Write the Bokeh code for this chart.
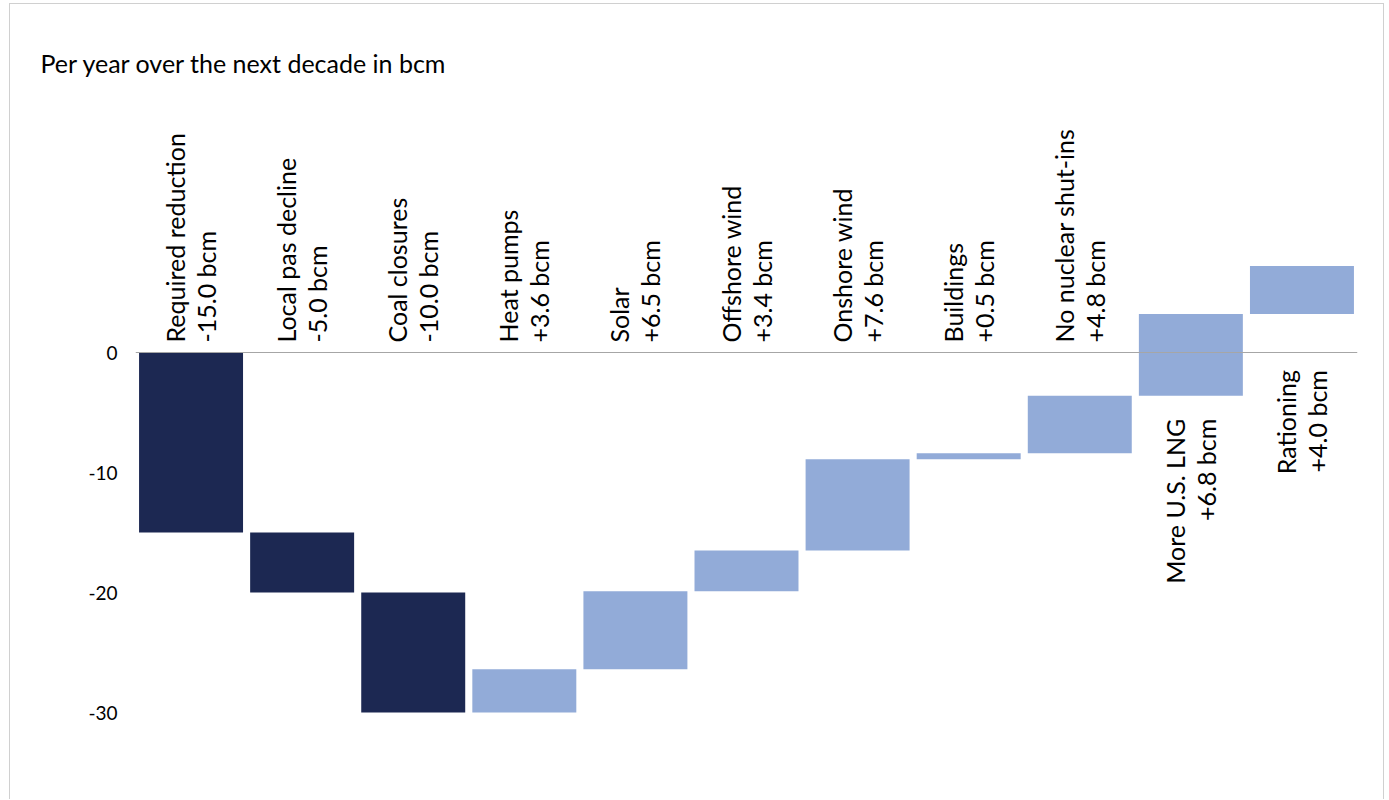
import numpy as np
from bokeh.plotting import figure
from bokeh.models import ColumnDataSource, FactorRange, Range1d, FixedTicker, Span, PrintfTickFormatter
from bokeh.embed import file_html
from bokeh.resources import INLINE
from bokeh.core.properties import value

# ---- data ----
categories = ["Required reduction", "Local pas decline", "Coal closures", "Heat pumps",
              "Solar", "Offshore wind", "Onshore wind", "Buildings",
              "No nuclear shut-ins", "More U.S. LNG", "Rationing"]
changes = [-15.0, -5.0, -10.0, 3.6, 6.5, 3.4, 7.6, 0.5, 4.8, 6.8, 4.0]
value_labels = ["-15.0 bcm", "-5.0 bcm", "-10.0 bcm", "+3.6 bcm", "+6.5 bcm", "+3.4 bcm",
                "+7.6 bcm", "+0.5 bcm", "+4.8 bcm", "+6.8 bcm", "+4.0 bcm"]
y_ticks = [0, -10, -20, -30]
title_text = "Per year over the next decade in bcm"

# ---- styles ----
DARK = "#1C2852"
LIGHT = "#92ABD8"
FONT = "Lato"
below_offsets = [23, 56]  # pixel gap below bar for labels placed under bars

ends = np.cumsum(changes)
starts = ends - np.array(changes)
tops = np.maximum(starts, ends)
bottoms = np.minimum(starts, ends)
colors = [DARK if c < 0 else LIGHT for c in changes]

bars = ColumnDataSource(dict(x=categories, top=tops, bottom=bottoms, color=colors))

p = figure(x_range=FactorRange(*categories, range_padding=0),
           y_range=Range1d(-36, 20 + 28 / 12),
           width=1375, height=796, output_backend="svg", toolbar_location=None,
           min_border_left=125, min_border_right=28, min_border_top=80, min_border_bottom=16,
           styles={"margin-left": "9px", "margin-top": "3px",
                   "border-left": "1px solid #D0D0D0", "border-top": "1px solid #D0D0D0",
                   "border-right": "1px solid #D0D0D0"})

p.vbar(x="x", top="top", bottom="bottom", width=0.936, color="color", source=bars, line_width=0)

p.add_layout(Span(location=0, dimension="width", line_color="#A6A6A6", line_width=1.2))

above_idx = [i for i in range(len(categories)) if tops[i] <= 0]
below_idx = [i for i in range(len(categories)) if tops[i] > 0]

src_above = ColumnDataSource(dict(x=[categories[i] for i in above_idx],
                                  y=[0.0] * len(above_idx),
                                  name=[categories[i] for i in above_idx],
                                  val=[value_labels[i] for i in above_idx]))
for field, xo in (("name", -16), ("val", 15)):
    p.text(x="x", y="y", text=field, source=src_above, angle=np.pi / 2,
           text_align="left", text_baseline="middle", x_offset=xo, y_offset=-10,
           text_font=value(FONT), text_font_size="25px", text_color="#000000")

src_below = ColumnDataSource(dict(x=[categories[i] for i in below_idx],
                                  y=[bottoms[i] for i in below_idx],
                                  name=[categories[i] for i in below_idx],
                                  val=[value_labels[i] for i in below_idx],
                                  yo=below_offsets))
for field, xo in (("name", -16), ("val", 15)):
    p.text(x="x", y="y", text=field, source=src_below, angle=np.pi / 2,
           text_align="right", text_baseline="middle", x_offset=xo, y_offset="yo",
           text_font=value(FONT), text_font_size="25px", text_color="#000000")

# axes
p.xaxis.visible = False
p.yaxis.ticker = FixedTicker(ticks=y_ticks)
p.yaxis.formatter = PrintfTickFormatter(format="%d")
p.yaxis.axis_line_color = None
p.yaxis.major_tick_line_color = None
p.yaxis.major_tick_out = 0
p.yaxis.major_tick_in = 0
p.yaxis.minor_tick_line_color = None
p.yaxis.major_label_standoff = 18
p.yaxis.major_label_text_font = FONT
p.yaxis.major_label_text_font_size = "19px"
p.yaxis.major_label_text_color = "#000000"
p.xgrid.visible = False
p.ygrid.visible = False
p.outline_line_color = None

p.title.text = title_text
p.title.text_font = FONT
p.title.text_font_size = "25px"
p.title.text_font_style = "normal"
p.title.text_color = "#000000"
p.title.align = "left"
p.title.vertical_align = "top"
p.title.offset = -95
p.title.standoff = 10

open("out.html", "w").write(file_html(p, INLINE))
